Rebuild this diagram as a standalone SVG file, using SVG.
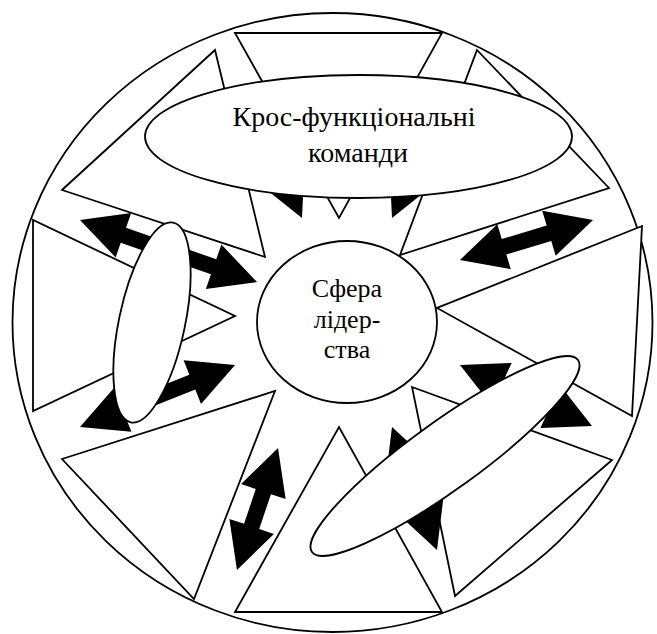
<svg xmlns="http://www.w3.org/2000/svg" width="657" height="634" viewBox="0 0 657 634">
<style>
.shape{fill:#fff;stroke:#000;stroke-width:1.8;stroke-linejoin:miter}
.arrow{fill:#000;stroke:none}
.label{font-family:"Liberation Serif","Times New Roman","DejaVu Serif",serif;fill:#000;text-anchor:middle}
</style>
<rect width="657" height="634" fill="#fff"/>
<g id="outer-circle"><ellipse class="shape" cx="332.5" cy="322.5" rx="320" ry="309.5"/></g>
<g id="segments">
  <g id="seg-top"><polygon class="shape" points="235,33 442,33 339,218"/></g>
  <g id="seg-upper-left"><polygon class="shape" points="215,50 62,190 265,257"/></g>
  <g id="seg-upper-right"><polygon class="shape" points="477,50 609,188 400,255"/></g>
  <g id="seg-left"><polygon class="shape" points="33,220 33,411 235,316"/></g>
  <g id="seg-right"><polygon class="shape" points="642,226 632,416 437,308"/></g>
  <g id="seg-lower-left"><polygon class="shape" points="62,459 275,391 194,599"/></g>
  <g id="seg-bottom"><polygon class="shape" points="235,612 442,612 339,427"/></g>
  <g id="seg-lower-right"><polygon class="shape" points="412,387 612,460 455,596"/></g>
</g>
<g id="connectors">
  <path class="arrow" transform="translate(168.5,251) rotate(19.3)" d="M-93.8 0L-47.8-23.5L-47.8-8L47.8-8L47.8-23.5L93.8 0L47.8 23.5L47.8 8L-47.8 8L-47.8 23.5Z"/>
  <path class="arrow" transform="translate(526.5,240) rotate(-16.7)" d="M-69.45 0L-23.45-23.5L-23.45-8L23.45-8L23.45-23.5L69.45 0L23.45 23.5L23.45 8L-23.45 8L-23.45 23.5Z"/>
  <path class="arrow" transform="translate(157.5,396) rotate(-21.8)" d="M-83.5 0L-37.5-23.5L-37.5-8L37.5-8L37.5-23.5L83.5 0L37.5 23.5L37.5 8L-37.5 8L-37.5 23.5Z"/>
  <path class="arrow" transform="translate(257.5,509) rotate(108.6)" d="M-64.35 0L-18.35-23.5L-18.35-8L18.35-8L18.35-23.5L64.35 0L18.35 23.5L18.35 8L-18.35 8L-18.35 23.5Z"/>
  <path class="arrow" transform="translate(277.3,163.3) rotate(65.7)" d="M-60 0L-14-23.5L-14-8L14-8L14-23.5L60 0L14 23.5L14 8L-14 8L-14 23.5Z"/>
  <path class="arrow" transform="translate(416.7,163.3) rotate(114.3)" d="M-60 0L-14-23.5L-14-8L14-8L14-23.5L60 0L14 23.5L14 8L-14 8L-14 23.5Z"/>
  <path class="arrow" transform="translate(526,395.5) rotate(24.8)" d="M-72.7 0L-26.7-23.5L-26.7-8L26.7-8L26.7-23.5L72.7 0L26.7 23.5L26.7 8L-26.7 8L-26.7 23.5Z"/>
  <path class="arrow" transform="translate(414.5,488.5) rotate(69.9)" d="M-65.5 0L-19.5-23.5L-19.5-8L19.5-8L19.5-23.5L65.5 0L19.5 23.5L19.5 8L-19.5 8L-19.5 23.5Z"/>
</g>
<g id="leadership-sphere">
  <ellipse class="shape" cx="347" cy="322" rx="90" ry="81"/>
  <text class="label" font-size="26"><tspan x="347" y="297">Сфера</tspan><tspan x="347" y="327.5">лідер-</tspan><tspan x="347" y="358">ства</tspan></text>
</g>
<g id="left-ellipse"><ellipse class="shape" cx="152" cy="322.5" rx="33" ry="102" transform="rotate(12 152 322.5)"/></g>
<g id="bottom-right-ellipse"><ellipse class="shape" cx="445" cy="456" rx="164" ry="34" transform="rotate(-35.8 445 456)"/></g>
<g id="cross-functional-teams">
  <ellipse class="shape" cx="358.5" cy="136.5" rx="213.5" ry="61.5"/>
  <text class="label" font-size="28"><tspan x="354" y="125.5">Крос-функціональні</tspan><tspan x="358" y="161.5">команди</tspan></text>
</g>
</svg>
